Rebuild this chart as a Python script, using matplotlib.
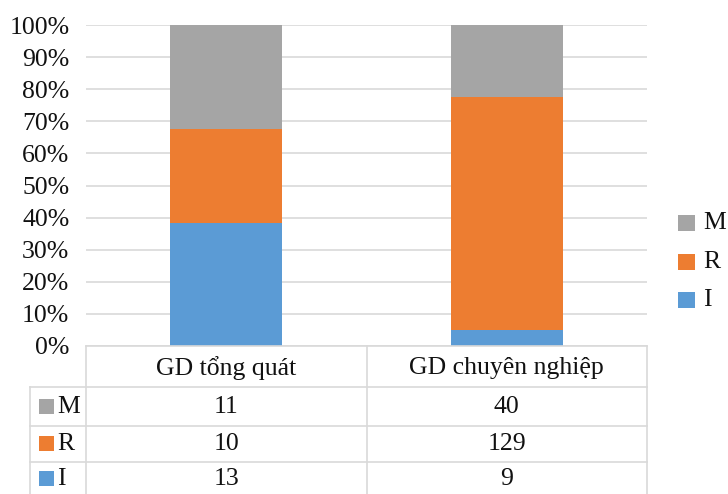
import matplotlib
matplotlib.use("Agg")
import matplotlib.pyplot as plt
from matplotlib.transforms import blended_transform_factory
from matplotlib.lines import Line2D
from matplotlib.patches import Rectangle
import numpy as np

categories = ["GD tổng quát", "GD chuyên nghiệp"]
series_names = ["I", "R", "M"]
I_vals = [13, 9]
R_vals = [10, 129]
M_vals = [11, 40]
colors = {"I": "#5B9BD5", "R": "#ED7D31", "M": "#A5A5A5"}
yticks = [0, 10, 20, 30, 40, 50, 60, 70, 80, 90, 100]

plt.rcParams['font.family'] = ['Liberation Serif', 'DejaVu Serif']
FS = 18.5
W, H = 728, 494
fig = plt.figure(figsize=(W / 100, H / 100), dpi=100)

def fy(py):
    return 1 - py / H

ax_left, ax_right, ax_top, ax_bot = 86, 647, 25, 346
ax = fig.add_axes([ax_left / W, fy(ax_bot), (ax_right - ax_left) / W, (ax_bot - ax_top) / H])

vals = {"I": np.array(I_vals, float), "R": np.array(R_vals, float), "M": np.array(M_vals, float)}
total = vals["I"] + vals["R"] + vals["M"]
x = np.arange(len(categories))
bottom = np.zeros(len(categories))
for s in series_names:
    pct = vals[s] / total * 100
    ax.bar(x, pct, width=0.4, bottom=bottom, color=colors[s], zorder=3)
    bottom += pct

ax.set_xlim(-0.5, len(categories) - 0.5)
ax.set_ylim(0, 100)
ax.set_yticks(yticks)
ax.set_yticklabels([f"{t}%" for t in yticks], fontsize=FS, color="#111111")
ax.tick_params(axis="y", length=0, pad=12)
ax.set_xticks([])
ax.grid(axis="y", color="#D9D9D9", linewidth=1.2, zorder=0)
for sp in ax.spines.values():
    sp.set_visible(False)

# Data table below the axis
tr = blended_transform_factory(ax.transData, fig.transFigure)
line_kw = dict(color="#D9D9D9", linewidth=1.2)
row_lines = [346, 387, 426, 462]
col_bounds = [-0.5 + i for i in range(len(categories) + 1)]
fig.add_artist(Line2D([-0.5, len(categories) - 0.5], [fy(346), fy(346)], transform=tr, **line_kw))
left_px = 30
for py in row_lines[1:]:
    fig.add_artist(Line2D([left_px / W, ax_right / W], [fy(py), fy(py)], transform=fig.transFigure, **line_kw))
for cb in col_bounds:
    fig.add_artist(Line2D([cb, cb], [fy(346), 0], transform=tr, **line_kw))
fig.add_artist(Line2D([left_px / W, left_px / W], [fy(387), 0], transform=fig.transFigure, **line_kw))

for i, c in enumerate(categories):
    fig.text(x[i], fy(368), c, transform=tr, ha="center", va="center", fontsize=FS, color="#111111")

row_centers = {"M": 407, "R": 444, "I": 479}
for s in ["M", "R", "I"]:
    cy = row_centers[s]
    for i in range(len(categories)):
        fig.text(x[i], fy(cy), f"{int(vals[s][i])}", transform=tr, ha="center", va="center",
                 fontsize=FS, color="#111111")
    fig.add_artist(Rectangle((39 / W, fy(cy + 7)), 15 / W, 15 / H, transform=fig.transFigure,
                             facecolor=colors[s], edgecolor="none"))
    fig.text(57 / W, fy(cy), s, ha="left", va="center", fontsize=FS, color="#111111")

leg_pos = {"M": 223, "R": 262, "I": 300}
for s in ["M", "R", "I"]:
    cy = leg_pos[s]
    fig.add_artist(Rectangle((678 / W, fy(cy + 8)), 17 / W, 16 / H, transform=fig.transFigure,
                             facecolor=colors[s], edgecolor="none"))
    fig.text(703 / W, fy(cy), s, ha="left", va="center", fontsize=FS, color="#111111")

fig.savefig("out.png", dpi=100)
